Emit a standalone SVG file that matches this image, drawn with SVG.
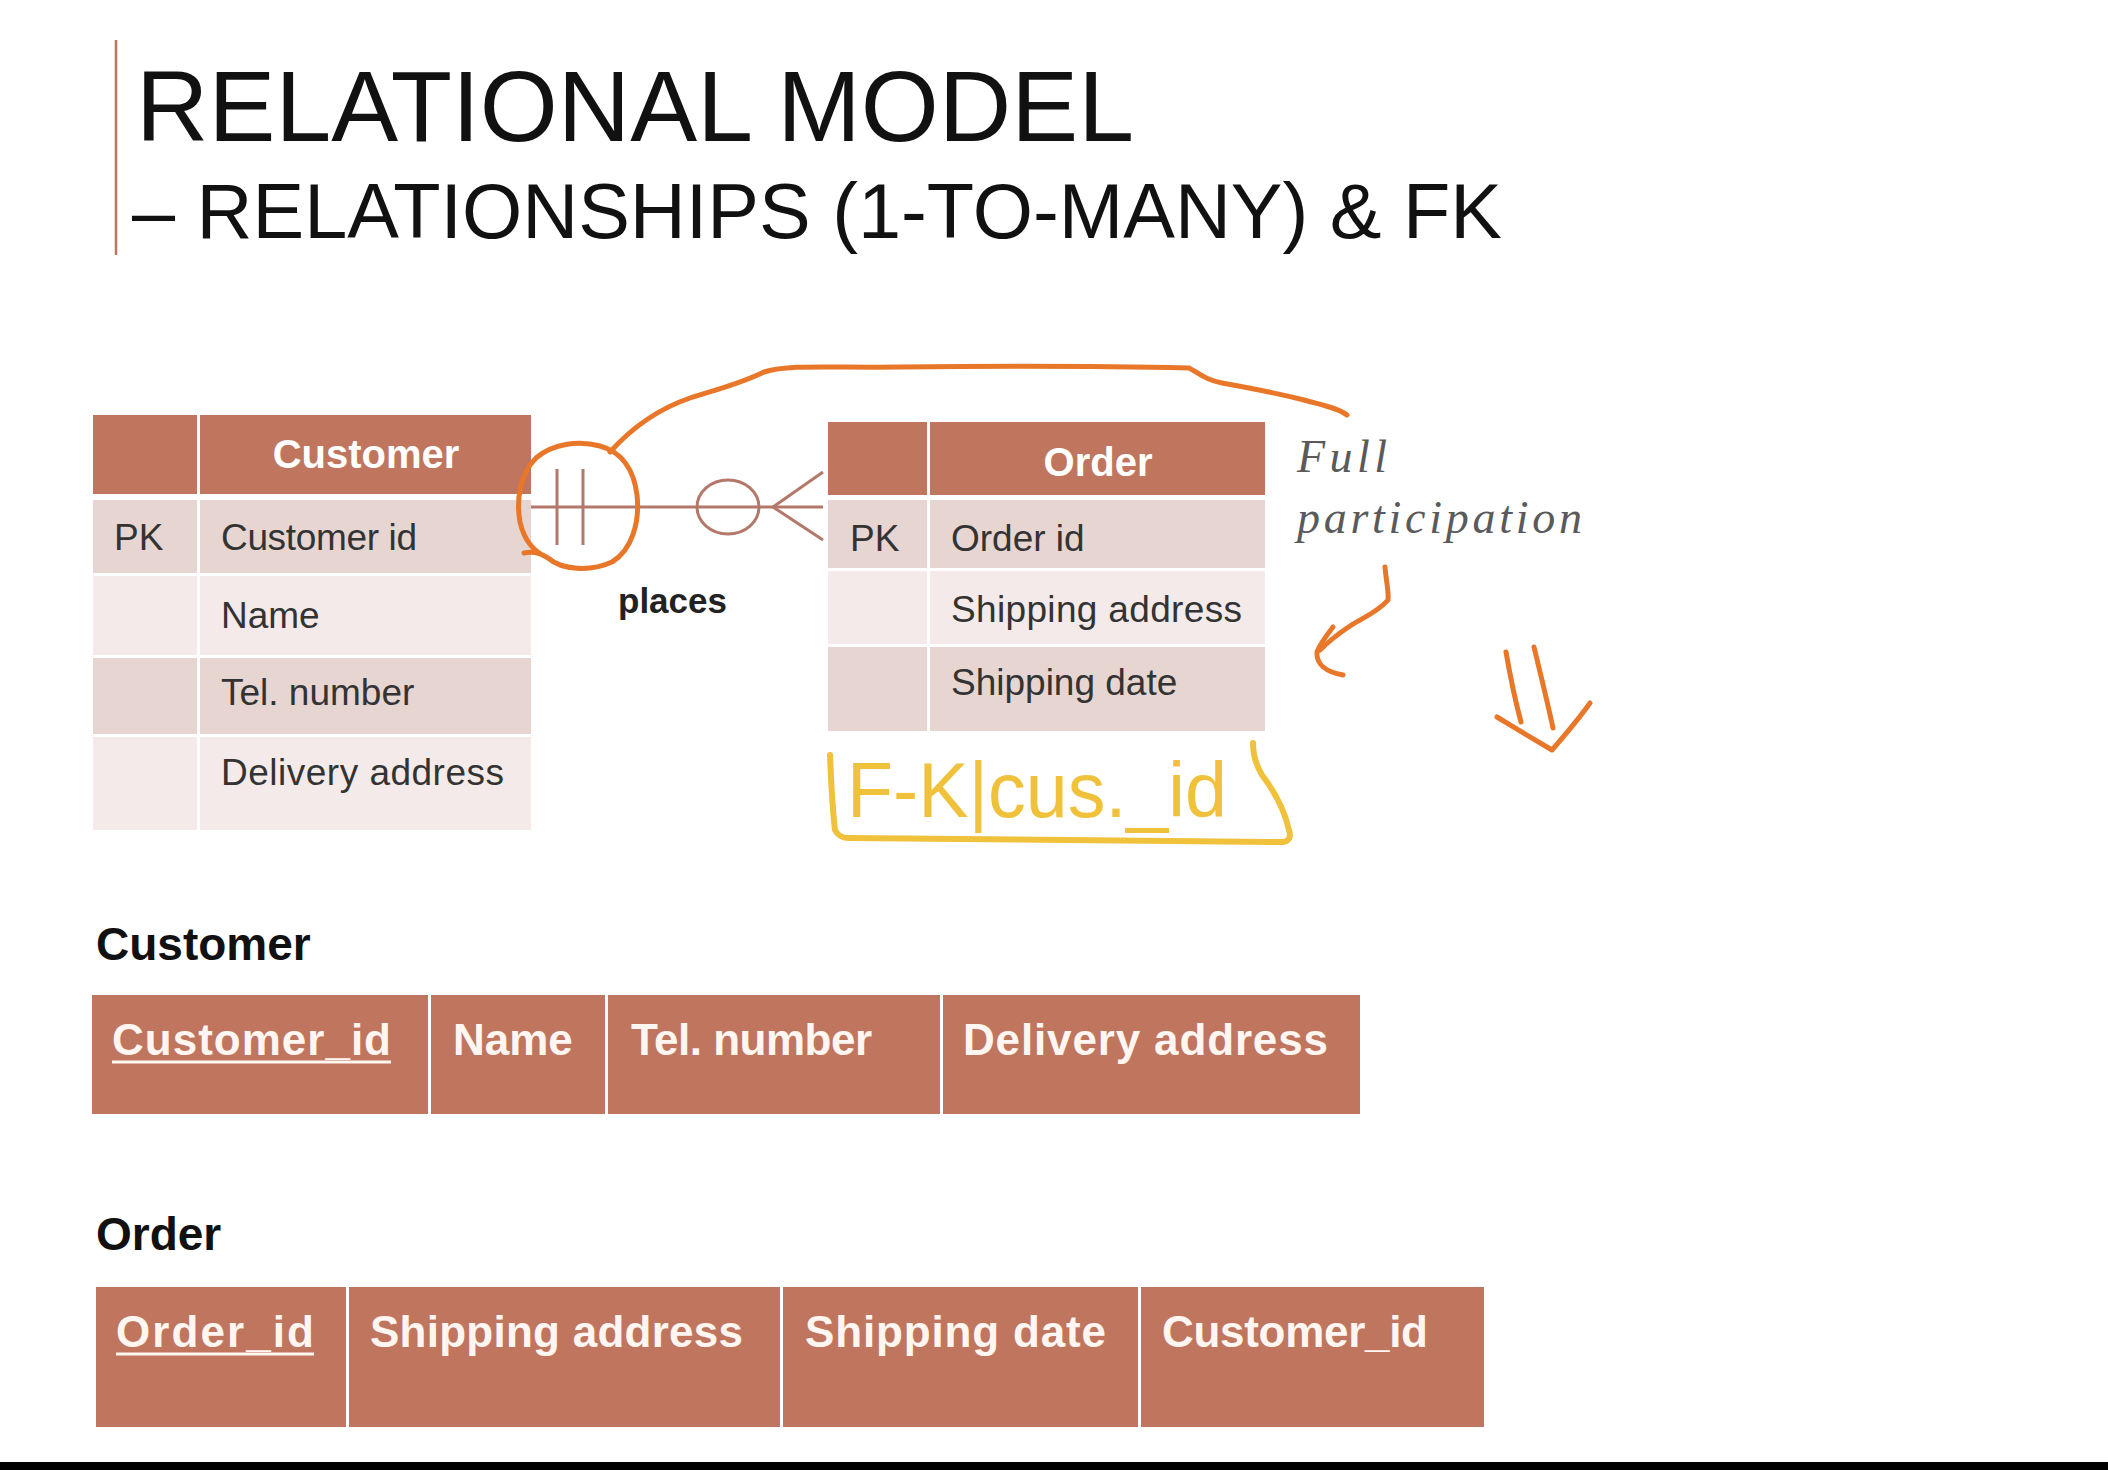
<svg xmlns="http://www.w3.org/2000/svg" width="2108" height="1470" viewBox="0 0 2108 1470">
<style>
.hd{fill:#C0755E}
.dk{fill:#E7D5D2}
.lt{fill:#F3EAE9}
.er{font-family:"Liberation Sans",Arial,sans-serif;font-size:37px;fill:#333333}
.erh{font-family:"Liberation Sans",Arial,sans-serif;font-size:40px;font-weight:bold;fill:#FFFFFF;text-anchor:middle}
.rel{font-family:"Liberation Sans",Arial,sans-serif;font-size:44px;font-weight:bold;fill:#FFF6F2}
.lbl{font-family:"Liberation Sans",Arial,sans-serif;font-size:46px;font-weight:bold;fill:#111111}
.conn{stroke:#B4786B;stroke-width:3;fill:none}
.orange{stroke:#E8772A;stroke-width:5;fill:none;stroke-linecap:round;stroke-linejoin:round}
.yellow{stroke:#F0C13B;stroke-width:6;fill:none;stroke-linecap:round;stroke-linejoin:round}
.hand{font-family:"Liberation Serif",serif;font-style:italic;font-size:46px;fill:#5A5A5A}
</style>
<rect x="0" y="0" width="2108" height="1470" fill="#FFFFFF"/>

<g id="title">
  <line x1="116" y1="40" x2="116" y2="255" stroke="#C0755E" stroke-width="2.5"/>
  <text x="136" y="141" font-family="'Liberation Sans',Arial,sans-serif" font-size="100" fill="#111111" textLength="998" lengthAdjust="spacingAndGlyphs">RELATIONAL MODEL</text>
  <text x="132" y="238" font-family="'Liberation Sans',Arial,sans-serif" font-size="78" fill="#111111" textLength="1370" lengthAdjust="spacingAndGlyphs">– RELATIONSHIPS (1-TO-MANY) &amp; FK</text>
</g>

<g id="er-customer">
  <rect class="hd" x="93" y="415" width="104" height="79"/>
  <rect class="hd" x="200" y="415" width="331" height="79"/>
  <rect class="dk" x="93" y="500" width="104" height="73"/>
  <rect class="dk" x="200" y="500" width="331" height="73"/>
  <rect class="lt" x="93" y="576" width="104" height="79"/>
  <rect class="lt" x="200" y="576" width="331" height="79"/>
  <rect class="dk" x="93" y="658" width="104" height="76"/>
  <rect class="dk" x="200" y="658" width="331" height="76"/>
  <rect class="lt" x="93" y="737" width="104" height="93"/>
  <rect class="lt" x="200" y="737" width="331" height="93"/>
  <text class="erh" x="366" y="468">Customer</text>
  <text class="er" x="114" y="550">PK</text>
  <text class="er" x="221" y="550" textLength="196">Customer id</text>
  <text class="er" x="221" y="628">Name</text>
  <text class="er" x="221" y="705">Tel. number</text>
  <text class="er" x="221" y="785" textLength="283">Delivery address</text>
</g>

<g id="er-order">
  <rect class="hd" x="828" y="422" width="99" height="73"/>
  <rect class="hd" x="930" y="422" width="335" height="73"/>
  <rect class="dk" x="828" y="500" width="99" height="68"/>
  <rect class="dk" x="930" y="500" width="335" height="68"/>
  <rect class="lt" x="828" y="571" width="99" height="73"/>
  <rect class="lt" x="930" y="571" width="335" height="73"/>
  <rect class="dk" x="828" y="647" width="99" height="84"/>
  <rect class="dk" x="930" y="647" width="335" height="84"/>
  <text class="erh" x="1098" y="476">Order</text>
  <text class="er" x="850" y="551">PK</text>
  <text class="er" x="951" y="551">Order id</text>
  <text class="er" x="951" y="622" textLength="291">Shipping address</text>
  <text class="er" x="951" y="695">Shipping date</text>
</g>

<g id="connectors">
  <line class="conn" x1="531" y1="507" x2="823" y2="507"/>
  <line class="conn" x1="557" y1="469" x2="557" y2="545"/>
  <line class="conn" x1="583" y1="469" x2="583" y2="545"/>
  <ellipse class="conn" cx="728" cy="507" rx="31" ry="27" fill="#FFFFFF"/>
  <polyline class="conn" points="823,472 773,507 823,540"/>
  <text x="618" y="613" font-family="'Liberation Sans',Arial,sans-serif" font-size="35" font-weight="bold" fill="#222222">places</text>
</g>

<g id="annotation-orange">
  <path class="orange" d="M524,553 C534,551 542,554 548,558 C562,570 590,572 612,562 C632,550 640,522 637,495 C634,470 622,452 600,446 C578,440 552,444 536,458 C520,474 516,500 520,522 C524,540 534,552 548,558"/>
  <path class="orange" d="M610,452 C628,432 655,410 690,398 C715,390 740,384 764,372 C790,364 830,368 900,367 C1000,366 1100,366 1189,368 C1200,374 1206,380 1222,383 C1250,388 1280,394 1304,400 C1322,405 1338,408 1347,415"/>
  <path class="orange" d="M1385,567 C1386,580 1389,592 1388,600 C1378,612 1362,618 1350,626 C1338,634 1328,642 1320,650"/>
  <path class="orange" d="M1333,627 C1326,636 1320,644 1317,652 C1316,664 1326,672 1343,675"/>
  <path class="orange" d="M1506,652 C1510,675 1515,700 1521,722"/>
  <path class="orange" d="M1534,647 C1540,672 1547,700 1553,728"/>
  <path class="orange" d="M1497,717 C1515,728 1535,740 1552,750 C1565,735 1578,720 1590,703"/>
</g>

<g id="full-participation">
  <text class="hand" x="1297" y="472" textLength="90">Full</text>
  <text class="hand" x="1297" y="533" textLength="285">participation</text>
</g>

<g id="fk-annotation">
  <path class="yellow" d="M830,755 C831,780 832,805 835,830 C838,836 842,838 848,838 C980,838 1130,840 1283,842 C1290,841 1291,836 1289,830 C1285,812 1275,792 1262,775 C1256,765 1253,755 1253,743"/>
  <text x="847" y="817" font-family="'Liberation Sans',Arial,sans-serif" font-size="78" fill="#F0C13B" textLength="380" lengthAdjust="spacingAndGlyphs">F-K|cus._id</text>
</g>

<g id="rel-customer">
  <text class="lbl" x="96" y="960">Customer</text>
  <rect class="hd" x="92" y="995" width="336" height="119"/>
  <rect class="hd" x="431" y="995" width="174" height="119"/>
  <rect class="hd" x="608" y="995" width="332" height="119"/>
  <rect class="hd" x="943" y="995" width="417" height="119"/>
  <text class="rel" x="112" y="1055" textLength="279">Customer_id</text>
  <line x1="112" y1="1062" x2="391" y2="1062" stroke="#FFF6F2" stroke-width="3"/>
  <text class="rel" x="453" y="1055">Name</text>
  <text class="rel" x="631" y="1055" textLength="241">Tel. number</text>
  <text class="rel" x="963" y="1055" textLength="365">Delivery address</text>
</g>

<g id="rel-order">
  <text class="lbl" x="96" y="1250">Order</text>
  <rect class="hd" x="96" y="1287" width="250" height="140"/>
  <rect class="hd" x="349" y="1287" width="431" height="140"/>
  <rect class="hd" x="783" y="1287" width="355" height="140"/>
  <rect class="hd" x="1141" y="1287" width="343" height="140"/>
  <text class="rel" x="116" y="1347" textLength="198">Order_id</text>
  <line x1="116" y1="1354" x2="314" y2="1354" stroke="#FFF6F2" stroke-width="3"/>
  <text class="rel" x="370" y="1347" textLength="373">Shipping address</text>
  <text class="rel" x="805" y="1347" textLength="301">Shipping date</text>
  <text class="rel" x="1162" y="1347" textLength="266">Customer_id</text>
</g>

<rect x="0" y="1462" width="2108" height="8" fill="#000000"/>
</svg>
